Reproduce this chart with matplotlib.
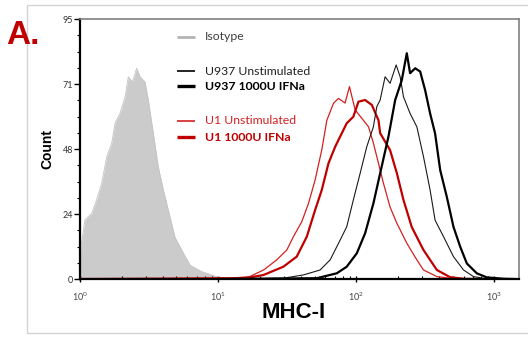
import numpy as np
import matplotlib
matplotlib.use("Agg")
import matplotlib.pyplot as plt
from matplotlib.patches import Rectangle
from matplotlib.ticker import FixedLocator, FixedFormatter, LogLocator, NullFormatter

plt.rcParams["font.family"] = ["Lato", "DejaVu Sans"]

# log10(MHC-I intensity) and count
iso_log = [0.0, 0.007, 0.036, 0.085, 0.12, 0.157, 0.193, 0.23, 0.254, 0.29, 0.326,
           0.35, 0.379, 0.41, 0.435, 0.471, 0.495, 0.531, 0.567, 0.604, 0.652,
           0.688, 0.737, 0.797, 0.882, 0.978, 1.05]
iso_cnt = [8, 12, 21.6, 24, 28.9, 35, 44.6, 49.7, 57, 60.6, 66.5,
           73.9, 72, 77, 73.9, 72, 65.4, 53.3, 41, 32.5, 22.7,
           15.3, 10.6, 5.1, 2.7, 1.1, 0.3]

u937_un_log = [1.0, 1.473, 1.618, 1.739, 1.812, 1.884, 1.932, 1.98, 2.029, 2.077,
               2.125, 2.15, 2.174, 2.21, 2.246, 2.29, 2.319, 2.343, 2.391, 2.44,
               2.488, 2.536, 2.572, 2.633, 2.705, 2.778, 2.85, 2.92, 3.1]
u937_un_cnt = [0, 0.3, 1.5, 3.3, 7, 14.2, 19.1, 28.9, 38.6, 48.3,
               55.6, 63, 65.4, 73.9, 71.5, 78.2, 73.9, 66.6, 60.5, 55.6,
               44.7, 32.5, 21.5, 15.5, 8.2, 3.3, 0.9, 0.3, 0]

u937_ifn_log = [1.0, 1.715, 1.86, 1.932, 2.005, 2.065, 2.125, 2.174, 2.234, 2.283,
                2.331, 2.367, 2.391, 2.428, 2.464, 2.5, 2.536, 2.572, 2.609, 2.657,
                2.705, 2.754, 2.802, 2.874, 2.947, 3.07, 3.15]
u937_ifn_cnt = [0, 0.3, 2.1, 4.5, 9.4, 16.7, 27.6, 38.6, 52, 65.4,
                72.7, 82.5, 75.2, 77, 75.8, 69, 60.5, 53.2, 39.8, 30,
                19.1, 11.8, 5.7, 2.1, 0.6, 0.1, 0]

u1_un_log = [0.0, 1.087, 1.23, 1.33, 1.425, 1.498, 1.546, 1.606, 1.655, 1.703,
             1.751, 1.788, 1.836, 1.872, 1.92, 1.952, 1.993, 2.04, 2.09, 2.125,
             2.15, 2.198, 2.246, 2.295, 2.367, 2.44, 2.488, 2.585, 2.68, 2.8]
u1_un_cnt = [0, 0.3, 0.9, 3.3, 7, 10.6, 15.5, 20.9, 27.6, 36.2,
             47.1, 58, 64.2, 66, 64.3, 70.3, 61.8, 58.8, 55.6, 49.7,
             44.7, 35, 26.3, 20.4, 13.1, 7, 3.3, 0.9, 0.3, 0]

u1_ifn_log = [0.0, 1.2, 1.33, 1.473, 1.57, 1.643, 1.703, 1.751, 1.8, 1.848,
              1.884, 1.932, 1.98, 2.017, 2.065, 2.114, 2.162, 2.174, 2.246, 2.295,
              2.343, 2.403, 2.488, 2.585, 2.68, 2.78, 2.9]
u1_ifn_cnt = [0, 0.3, 1.5, 4.5, 8.2, 15.5, 25.2, 32.5, 42.3, 48.3,
              52, 56.9, 59.3, 64.8, 65.4, 63.6, 58, 53.3, 47.1, 38.7,
              28.9, 19, 10.6, 3.3, 0.7, 0.1, 0]

y_ticks = [0, 23.75, 47.5, 71.25, 95]
y_labels = ["0", "24", "48", "71", "95"]

legend_items = [
    ("Isotype", "#b4b4b4", 2.0, "normal", "#404040"),
    ("U937 Unstimulated", "black", 1.2, "normal", "#202020"),
    ("U937 1000U IFNa", "black", 2.4, "bold", "black"),
    ("U1 Unstimulated", "#d42020", 1.2, "normal", "#d42020"),
    ("U1 1000U IFNa", "#c00000", 2.4, "bold", "#c00000"),
]
legend_y = [0.931, 0.800, 0.742, 0.608, 0.546]

fig = plt.figure(figsize=(5.28, 3.37), dpi=100)
ax = fig.add_axes([0.1515, 0.172, 0.8315, 0.7716])

# outer frame
fig.patches.append(Rectangle((27 / 528, 4 / 337), 1.0, 328 / 337, transform=fig.transFigure,
                             fill=False, edgecolor="#d4d4d4", linewidth=1.0))

iso_x = np.power(10.0, iso_log)
ax.fill_between(iso_x, 0, iso_cnt, color="#cbcbcb", linewidth=0)
ax.plot(iso_x, iso_cnt, color="#c4c4c4", linewidth=0.6)

ax.plot(np.power(10.0, u1_un_log), u1_un_cnt, color="#d42020", linewidth=0.9)
ax.plot(np.power(10.0, u1_ifn_log), u1_ifn_cnt, color="#c00000", linewidth=1.6)
ax.plot(np.power(10.0, u937_un_log), u937_un_cnt, color="#1a1a1a", linewidth=0.8)
ax.plot(np.power(10.0, u937_ifn_log), u937_ifn_cnt, color="black", linewidth=1.6)

ax.set_xscale("log")
ax.set_xlim(1, 10 ** 3.18)
ax.set_ylim(0, 95)

ax.yaxis.set_major_locator(FixedLocator(y_ticks))
ax.yaxis.set_major_formatter(FixedFormatter(y_labels))
ax.yaxis.set_minor_locator(FixedLocator(np.arange(0, 95.01, 23.75 / 4)))
ax.tick_params(axis="y", which="major", direction="out", length=4, width=1,
               labelsize=6.5, labelcolor="#333333", pad=1)
ax.tick_params(axis="y", which="minor", direction="out", length=2.5, width=0.8)

ax.xaxis.set_major_locator(LogLocator(base=10))
ax.xaxis.set_minor_locator(LogLocator(base=10, subs=np.arange(2, 10)))
ax.xaxis.set_minor_formatter(NullFormatter())
ax.tick_params(axis="x", which="major", direction="inout", length=5, width=1,
               labelsize=6.5, labelcolor="#444444", pad=6)
ax.tick_params(axis="x", which="minor", direction="in", length=2.5, width=0.8)

for s in ["left", "bottom"]:
    ax.spines[s].set_linewidth(1.6)
    ax.spines[s].set_color("black")
for s in ["top", "right"]:
    ax.spines[s].set_linewidth(1.2)
    ax.spines[s].set_color("#808080")

ax.set_ylabel("Count", fontsize=10, fontweight="bold", family=["Liberation Sans", "DejaVu Sans"],
              labelpad=6)
ax.set_xlabel("MHC-I", fontsize=16, fontweight="bold", family=["Liberation Sans", "DejaVu Sans"],
              labelpad=-2)
ax.xaxis.set_label_coords(0.487, -0.09)

for (label, col, lw, weight, tcol), yy in zip(legend_items, legend_y):
    ax.plot([0.221, 0.262], [yy, yy], transform=ax.transAxes, color=col, linewidth=lw,
            solid_capstyle="butt")
    ax.text(0.285, yy, label, transform=ax.transAxes, fontsize=8.8, fontweight=weight,
            color=tcol, va="center", ha="left")

fig.text(6 / 528, 1 - 35 / 337, "A.", fontsize=24, fontweight="bold", color="#c00000",
         family=["Liberation Sans", "DejaVu Sans"], va="center", ha="left")

fig.savefig("out.png", dpi=100)
